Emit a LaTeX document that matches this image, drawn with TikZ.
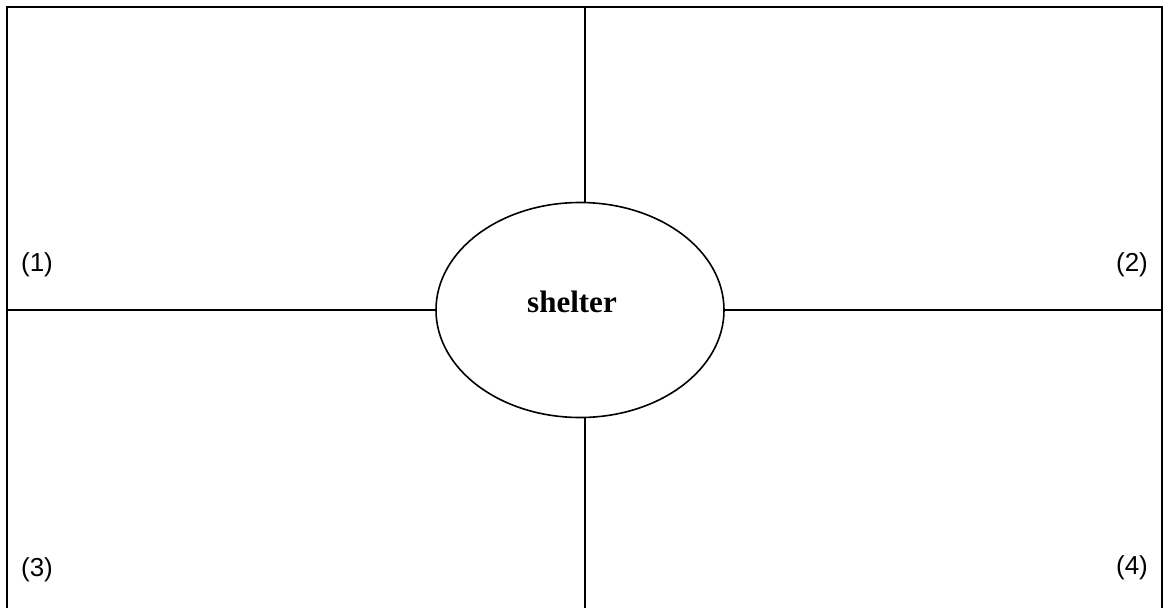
\documentclass[tikz,border=0pt]{standalone}
\usepackage{fontspec}
\setmainfont{Liberation Serif}
\newfontfamily\arialf{Liberation Sans}
\usetikzlibrary{shapes.geometric}
\begin{document}
\begin{tikzpicture}[x=1pt,y=-1pt,
  ln/.style={line width=1.6pt,black},
  lbl/.style={font=\arialf\fontsize{26}{29}\selectfont,inner sep=0pt}]
\useasboundingbox (0,0) rectangle (1166,608);
\node[ellipse,draw,line width=1.6pt,minimum width=288pt,minimum height=215pt,inner sep=0pt] (sh) at (580,310) {};
\node[font=\bfseries\fontsize{31}{34}\selectfont] (t) at (572,302) {shelter};
\coordinate (tl) at (7,7);
\coordinate (tr) at (1162,7);
\coordinate (bl) at (7,608);
\coordinate (br) at (1162,608);
\coordinate (tm) at (585,7);
\coordinate (bm) at (585,608);
\draw[ln] (bl) -- (tl) -- (tr) -- (br);
\draw[ln] (tm) -- (tm |- sh.north);
\draw[ln] (bm) -- (bm |- sh.south);
\draw[ln] (sh.west) -- (sh.west -| tl);
\draw[ln] (sh.east) -- (sh.east -| tr);
\node[lbl] (n1) at (37,265) {(1)};
\node[lbl] (n2) at (1132,265) {(2)};
\node[lbl] (n3) at (37,570) {(3)};
\node[lbl] (n4) at (1132,568) {(4)};
\end{tikzpicture}
\end{document}
